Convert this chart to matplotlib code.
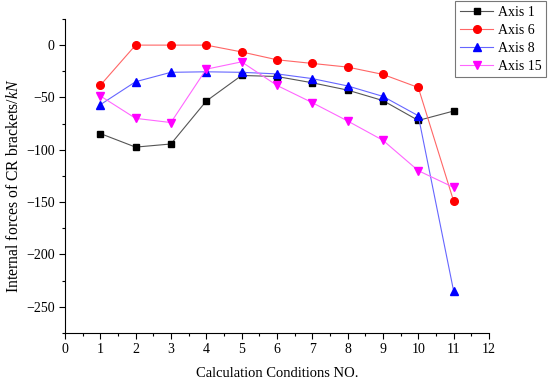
"""Internal forces of CR brackets per calculation condition."""

import matplotlib
matplotlib.use("Agg")
import matplotlib.pyplot as plt
from matplotlib.ticker import MultipleLocator

plt.rcParams["font.family"] = ["Liberation Serif", "DejaVu Serif"]
plt.rcParams["mathtext.fontset"] = "custom"
plt.rcParams["mathtext.it"] = "Liberation Serif:italic"
plt.rcParams["mathtext.rm"] = "Liberation Serif"

conditions = [1, 2, 3, 4, 5, 6, 7, 8, 9, 10, 11]
axis_1 = [-84.5, -97.5, -94.5, -53.5, -29, -30, -36, -43, -53, -72, -63]
axis_6 = [-38.5, 0, 0, 0, -6.5, -14, -17.5, -21, -28, -40.5, -149]
axis_8 = [-57, -35, -26, -25.5, -26, -27.5, -32, -39, -49, -67.5, -235]
axis_15 = [-48.5, -70, -74, -23, -16, -38.5, -55, -72.5, -91, -120, -136]

SERIES = [
    ("Axis 1", axis_1, "s", "black", "#555555", 5),
    ("Axis 6", axis_6, "o", "red", "#ff6666", 5.5),
    ("Axis 8", axis_8, "^", "blue", "#6666ff", 6),
    ("Axis 15", axis_15, "v", "magenta", "#ff66ff", 6),
]

fig = plt.figure(figsize=(5.5, 3.87), dpi=100)
ax = fig.add_axes([0.118, 0.14, 0.771, 0.811])

for label, values, marker, color, line_color, size in SERIES:
    ax.plot(conditions, values, color=line_color, linewidth=0.8,
            marker=marker, markersize=size, markerfacecolor=color,
            markeredgecolor=color, label=label)

ax.set_xlim(0, 12)
ax.set_ylim(-275, 25)
ax.xaxis.set_major_locator(MultipleLocator(1))
ax.xaxis.set_minor_locator(MultipleLocator(0.5))
ax.yaxis.set_major_locator(MultipleLocator(50))
ax.yaxis.set_minor_locator(MultipleLocator(25))
ax.tick_params(which="major", direction="out", length=4, width=0.8, labelsize=10)
ax.tick_params(which="minor", direction="out", length=2.5, width=0.8)
ax.spines["top"].set_visible(False)
ax.spines["right"].set_visible(False)

ax.set_xlabel("Calculation Conditions NO.", fontsize=10.5, labelpad=8)
ax.set_ylabel("Internal forces of CR brackets/$kN$", fontsize=11.3)
ax.yaxis.set_label_coords(-0.1, 0.47)

leg = fig.legend(loc="upper right", bbox_to_anchor=(0.993, 0.997),
                 fontsize=10, frameon=True, fancybox=False,
                 borderpad=0.35, labelspacing=0.35, handlelength=2.4,
                 handletextpad=0.3, borderaxespad=0)
leg.get_frame().set_edgecolor("#555555")
leg.get_frame().set_linewidth(0.8)

fig.savefig("out.png", dpi=100)
